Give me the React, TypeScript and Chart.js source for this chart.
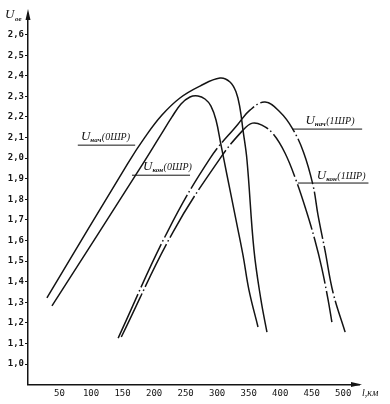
import React, { useEffect, useRef } from "react";
import { Chart, registerables } from "chart.js";

Chart.register(...registerables);

// Tick values and labels
const xTickValues = [50, 100, 150, 200, 250, 300, 350, 400, 450, 500];
const yTickValues = [1.0, 1.1, 1.2, 1.3, 1.4, 1.5, 1.6, 1.7, 1.8, 1.9, 2.0, 2.1, 2.2, 2.3, 2.4, 2.5, 2.6];
const yTickLabels = ["1,0", "1,1", "1,2", "1,3", "1,4", "1,5", "1,6", "1,7", "1,8", "1,9", "2,0", "2,1", "2,2", "2,3", "2,4", "2,5", "2,6"];

// U_нач(0ШР)
const nach0X = [30, 158.6, 185.6, 212.5, 241, 272.8, 304.5, 320.4, 330, 336.2, 341, 347.3, 358.4, 369.5, 379];
const nach0Y = [1.321, 1.976, 2.102, 2.209, 2.292, 2.35, 2.389, 2.37, 2.321, 2.243, 2.136, 1.991, 1.554, 1.311, 1.155];

// U_кон(0ШР)
const kon0X = [38, 180.8, 209.4, 228.4, 242.7, 256.9, 269.6, 280.7, 290.2, 298.2, 306.1, 315.6, 328.3, 341, 350.5, 364.8];
const kon0Y = [1.282, 1.966, 2.107, 2.2, 2.263, 2.297, 2.302, 2.287, 2.253, 2.185, 2.064, 1.918, 1.724, 1.529, 1.359, 1.18];

// U_нач(1ШР)
const nach1X = [143, 221, 289, 333, 352, 376, 400, 419, 437, 452, 460, 471, 484, 503];
const nach1Y = [1.126, 1.641, 2.0, 2.165, 2.233, 2.272, 2.223, 2.146, 2.029, 1.869, 1.723, 1.553, 1.345, 1.155];

// U_кон(1ШР)
const kon1X = [148, 230, 305, 341, 356, 371, 389, 407.6, 425, 441, 455, 466, 476, 482];
const kon1Y = [1.131, 1.641, 2.0, 2.136, 2.17, 2.16, 2.117, 2.025, 1.894, 1.748, 1.602, 1.466, 1.311, 1.204];

const toPts = (xs: number[], ys: number[]) => xs.map((x, i) => ({ x, y: ys[i] }));

const INK = "#141414";
const SERIF = '"Liberation Serif", "DejaVu Serif", serif';
const MONO = '"DejaVu Sans Mono", monospace';

// Curve labels: text, subscript, tail; anchor and underline in data units
const curveLabels = [
  { main: "U", sub: "нач", tail: "(0ШР)", tx: 84, ty: 2.087, ux1: 79, ux2: 170, uy: 2.063 },
  { main: "U", sub: "кон", tail: "(0ШР)", tx: 182.5, ty: 1.94, ux1: 165, ux2: 257, uy: 1.917 },
  { main: "U", sub: "нач", tail: "(1ШР)", tx: 440, ty: 2.165, ux1: 419, ux2: 530, uy: 2.141 },
  { main: "U", sub: "кон", tail: "(1ШР)", tx: 458, ty: 1.9, ux1: 428, ux2: 540, uy: 1.879 },
];

function drawCompound(ctx: CanvasRenderingContext2D, x: number, y: number, main: string, sub: string, tail: string) {
  ctx.fillStyle = INK;
  ctx.textAlign = "left";
  ctx.textBaseline = "alphabetic";
  ctx.font = `italic 13px ${SERIF}`;
  ctx.fillText(main, x, y);
  let w = ctx.measureText(main).width;
  ctx.font = `italic bold 7px ${SERIF}`;
  ctx.fillText(sub, x + w, y + 2);
  w += ctx.measureText(sub).width + 0.5;
  if (tail) {
    ctx.font = `italic 10px ${SERIF}`;
    ctx.fillText(tail, x + w, y);
  }
}

const decorPlugin = {
  id: "decor",
  afterDraw(chart: any) {
    const ctx: CanvasRenderingContext2D = chart.ctx;
    const xs = chart.scales.x;
    const ys = chart.scales.y;
    const area = chart.chartArea;
    ctx.save();
    curveLabels.forEach((l) => {
      const ux1 = xs.getPixelForValue(l.ux1);
      const ux2 = xs.getPixelForValue(l.ux2);
      const uy = ys.getPixelForValue(l.uy);
      ctx.strokeStyle = INK;
      ctx.lineWidth = 1;
      ctx.beginPath();
      ctx.moveTo(ux1, uy);
      ctx.lineTo(ux2, uy);
      ctx.stroke();
      drawCompound(ctx, xs.getPixelForValue(l.tx), ys.getPixelForValue(l.ty), l.main, l.sub, l.tail);
    });
    ctx.fillStyle = INK;
    ctx.beginPath();
    ctx.moveTo(area.left, area.top - 5);
    ctx.lineTo(area.left - 2.5, area.top + 6);
    ctx.lineTo(area.left + 2.5, area.top + 6);
    ctx.closePath();
    ctx.fill();
    ctx.beginPath();
    ctx.moveTo(area.right + 3, area.bottom);
    ctx.lineTo(area.right - 8, area.bottom - 2.5);
    ctx.lineTo(area.right - 8, area.bottom + 2.5);
    ctx.closePath();
    ctx.fill();
    ctx.font = `italic 13px ${SERIF}`;
    ctx.fillText("U", area.left - 23, area.top + 4);
    ctx.font = `italic bold 7px ${SERIF}`;
    ctx.fillText("oe", area.left - 13, area.top + 7);
    ctx.font = `italic 10px ${SERIF}`;
    ctx.fillText("l,км", area.right + 3, area.bottom + 11);
    ctx.restore();
  },
};

export default function App() {
  const ref = useRef<HTMLCanvasElement | null>(null);

  useEffect(() => {
    if (!ref.current) return;
    const solid = { borderColor: INK, borderWidth: 1.5, pointRadius: 0, showLine: true, tension: 0.4, fill: false };
    const dashDot = { ...solid, borderDash: [48, 3, 1.5, 3] };
    const chart = new Chart(ref.current, {
      type: "scatter",
      data: {
        datasets: [
          { label: "Uнач(0ШР)", data: toPts(nach0X, nach0Y), ...solid },
          { label: "Uкон(0ШР)", data: toPts(kon0X, kon0Y), ...solid },
          { label: "Uнач(1ШР)", data: toPts(nach1X, nach1Y), ...dashDot },
          { label: "Uкон(1ШР)", data: toPts(kon1X, kon1Y), ...dashDot },
        ],
      },
      options: {
        responsive: false,
        animation: false,
        layout: { padding: { left: 0, right: 31, top: 14, bottom: 0 } },
        plugins: { legend: { display: false }, tooltip: { enabled: false } },
        scales: {
          x: {
            type: "linear",
            min: 0,
            max: 525,
            afterBuildTicks: (s: any) => {
              s.ticks = xTickValues.map((v) => ({ value: v }));
            },
            afterFit: (s: any) => {
              s.height = 19.4;
            },
            grid: { display: true, drawOnChartArea: false, drawTicks: false },
            border: { display: true, color: INK, width: 1.5 },
            ticks: {
              padding: 4,
              autoSkip: false,
              maxRotation: 0,
              color: INK,
              font: { family: MONO, size: 9 },
              callback: (v: any) => String(v),
            },
          },
          y: {
            type: "linear",
            min: 0.9,
            max: 2.7,
            afterBuildTicks: (s: any) => {
              s.ticks = yTickValues.map((v) => ({ value: v }));
            },
            afterFit: (s: any) => {
              s.width = 28;
            },
            grid: { display: true, drawOnChartArea: false, drawTicks: true, tickLength: 3, color: INK, lineWidth: 1 },
            border: { display: true, color: INK, width: 1.5 },
            ticks: {
              padding: 1,
              autoSkip: false,
              color: INK,
              font: { family: MONO, size: 9, weight: "bold" },
              callback: (_v: any, i: number) => yTickLabels[i],
            },
          },
        },
      },
      plugins: [decorPlugin],
    });
    return () => chart.destroy();
  }, []);

  return (
    <div style={{ position: "absolute", left: 0, top: 0, width: 390, height: 404, background: "#fff" }}>
      <canvas ref={ref} width={390} height={404} style={{ display: "block" }} />
    </div>
  );
}
